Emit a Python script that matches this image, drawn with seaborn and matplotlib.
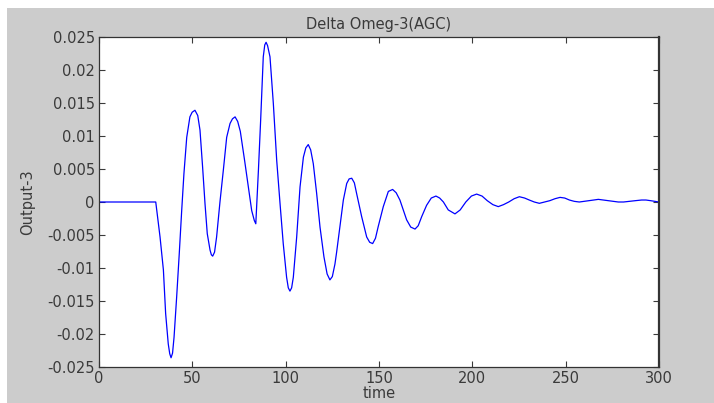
import numpy as np
import pandas as pd
import matplotlib
matplotlib.use("Agg")
import matplotlib.pyplot as plt
from matplotlib.patches import Rectangle
import seaborn as sns

# valores (tempo, saida)
tempo = [0, 10, 20, 30.4, 32.7, 34.5, 35.7, 37.1, 37.9, 38.6, 39.4, 40.2, 41.6,
         43.0, 44.3, 45.5, 47.0, 48.7, 49.9, 51.4, 52.9, 54.1, 55.5, 56.8, 58.0,
         59.5, 60.2, 60.9, 61.9, 63.0, 64.8, 66.6, 68.4, 70.2, 71.5, 72.9, 74.3,
         75.7, 78.1, 80.0, 81.8, 83.2, 84.0, 85.4, 86.6, 88.0, 88.8, 89.5, 90.3,
         91.6, 93.4, 95.2, 97.0, 98.7, 100.5, 101.4, 102.3, 103.2, 104.1, 105.9,
         107.7, 109.5, 110.8, 112.1, 113.4, 114.8, 116.6, 118.4, 120.5, 122.2,
         123.7, 125.0, 126.4, 127.3, 129.1, 130.9, 132.7, 134.0, 135.4, 136.8,
         138.0, 140.7, 143.4, 145.0, 146.6, 148.1, 149.6, 152.3, 155.0, 157.3,
         159.2, 161.2, 164.8, 167.0, 169.3, 171.0, 172.9, 175.5, 178.0, 180.5,
         182.5, 184.5, 187.1, 190.7, 193.5, 196.5, 199.5, 202.3, 205.2, 208.0,
         211.0, 213.9, 216.7, 219.5, 222.4, 225.2, 228.0, 230.5, 233.2, 235.9,
         238.7, 241.5, 244.3, 247.0, 249.5, 252.0, 254.6, 257.3, 260.0, 262.5,
         265.0, 267.5, 270.2, 273.0, 275.6, 278.2, 281.0, 284.0, 287.3, 290.7,
         293.0, 295.5, 300.0]
saida = [0, 0, 0, 0, -0.0053, -0.0103, -0.0169, -0.0215, -0.0230, -0.0236,
         -0.0229, -0.0205, -0.0144, -0.0078, -0.0013, 0.0043, 0.0098, 0.0129,
         0.0136, 0.0139, 0.0131, 0.0109, 0.0053, -0.0003, -0.0048, -0.0073,
         -0.0080, -0.0082, -0.0076, -0.0053, 0.0, 0.0048, 0.0098, 0.0119, 0.0126,
         0.0129, 0.0122, 0.0107, 0.0061, 0.0023, -0.0013, -0.0028, -0.0033,
         0.0048, 0.0124, 0.0220, 0.0238, 0.0242, 0.0237, 0.0220, 0.0149, 0.0063,
         -0.0003, -0.0063, -0.0114, -0.0130, -0.0135, -0.0130, -0.0114, -0.0053,
         0.0023, 0.0068, 0.0082, 0.0087, 0.0079, 0.0058, 0.0013, -0.0038,
         -0.0083, -0.0109, -0.0118, -0.0113, -0.0094, -0.0076, -0.0037, 0.0003,
         0.0028, 0.0035, 0.0036, 0.0029, 0.0013, -0.0022, -0.0053, -0.0061,
         -0.0063, -0.0055, -0.0037, -0.0007, 0.0016, 0.0019, 0.0014, 0.0003,
         -0.0027, -0.0038, -0.0041, -0.0036, -0.0022, -0.0005, 0.0006, 0.0009,
         0.0006, 0.0, -0.0012, -0.0018, -0.0012, 0.0, 0.0009, 0.0012, 0.0009,
         0.0002, -0.0004, -0.0007, -0.0004, 0.0, 0.0005, 0.0008, 0.0006, 0.0003,
         0.0, -0.0002, 0.0, 0.0002, 0.0005, 0.0007, 0.0006, 0.0003, 0.0001, 0.0,
         0.0001, 0.0002, 0.0003, 0.0004, 0.0003, 0.0002, 0.0001, 0.0, 0.0,
         0.0001, 0.0002, 0.0003, 0.0003, 0.0002, 0.0]

xticks = [0, 50, 100, 150, 200, 250, 300]
yticks = [-0.025, -0.02, -0.015, -0.01, -0.005, 0, 0.005, 0.01, 0.015, 0.02, 0.025]
ytick_labels = ["-0.025", "-0.02", "-0.015", "-0.01", "-0.005", "0",
                "0.005", "0.01", "0.015", "0.02", "0.025"]

df = pd.DataFrame({"time": tempo, "Output-3": saida})

sns.set_style("ticks")
plt.rcParams["font.family"] = ["DejaVu Sans"]

W, H = 714, 403
fig = plt.figure(figsize=(W / 100, H / 100), dpi=100, facecolor="white")
# fundo cinza estilo matlab
fundo = Rectangle((7 / W, 0), 1 - 7 / W, (H - 8) / H, transform=fig.transFigure,
                  facecolor="#cccccc", edgecolor="none", zorder=-10)
fig.add_artist(fundo)

ax = fig.add_axes([99 / W, (H - 367) / H, 560 / W, 330 / H])
ax.set_zorder(5)
ax.set_facecolor("white")
sns.lineplot(data=df, x="time", y="Output-3", ax=ax, color="#0000ff",
             linewidth=0.9, estimator=None, sort=False)

ax.set_xlim(0, 300)
ax.set_ylim(-0.025, 0.025)
ax.set_xticks(xticks)
ax.set_xticklabels([str(t) for t in xticks])
ax.set_yticks(yticks)
ax.set_yticklabels(ytick_labels)
ax.tick_params(direction="in", length=4, width=0.8, colors="#3a3a3a",
               labelsize=10.5, top=True, right=True, pad=3)
for s in ax.spines.values():
    s.set_visible(True)
    s.set_color("#333333")
    s.set_linewidth(0.9)
ax.spines["right"].set_linewidth(1.6)

ax.set_title("Delta Omeg-3(AGC)", fontsize=10.5, color="#3a3a3a", pad=6)
ax.set_xlabel("time", fontsize=10.5, color="#3a3a3a", labelpad=0)
ax.set_ylabel("Output-3", fontsize=10.5, color="#3a3a3a", labelpad=9)

fig.savefig("out.png", dpi=100, facecolor=fig.get_facecolor())
